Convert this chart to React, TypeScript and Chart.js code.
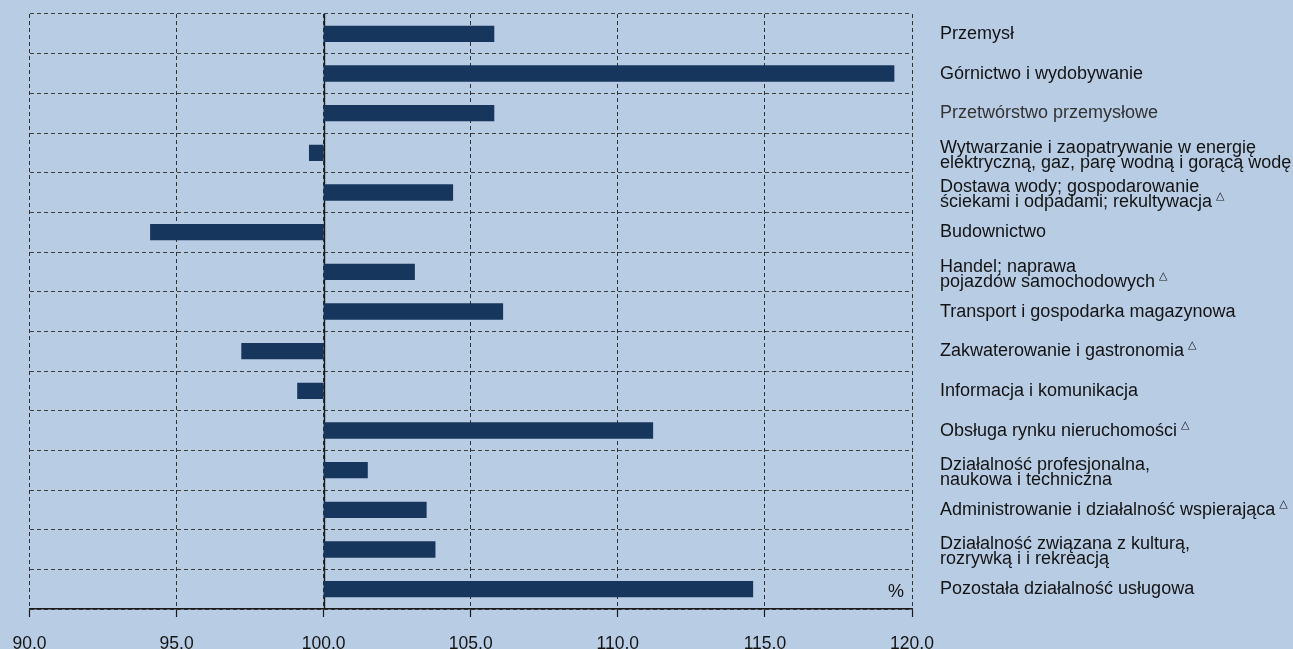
import React, { useEffect, useRef } from "react";
import { Chart, registerables } from "chart.js";

Chart.register(...registerables);

const categories: string[][] = [
  ["Przemysł"],
  ["Górnictwo i wydobywanie"],
  ["Przetwórstwo przemysłowe"],
  ["Wytwarzanie i zaopatrywanie w energię", "elektryczną, gaz, parę wodną i gorącą wodę"],
  ["Dostawa wody; gospodarowanie", "ściekami i odpadami; rekultywacja"],
  ["Budownictwo"],
  ["Handel; naprawa", "pojazdów samochodowych"],
  ["Transport i gospodarka magazynowa"],
  ["Zakwaterowanie i gastronomia"],
  ["Informacja i komunikacja"],
  ["Obsługa rynku nieruchomości"],
  ["Działalność profesjonalna,", "naukowa i techniczna"],
  ["Administrowanie i działalność wspierająca"],
  ["Działalność związana z kulturą,", "rozrywką i i rekreacją"],
  ["Pozostała działalność usługowa"],
];

const values: number[] = [
  105.8, 119.4, 105.8, 99.5, 104.4, 94.1, 103.1, 106.1, 97.2, 99.1, 111.2, 101.5, 103.5, 103.8, 114.6,
];

const triangleMarked: boolean[] = [
  false, false, false, false, true, false, true, false, true, false, true, false, true, false, false,
];

const baseValue = 100;
const axisMin = 90;
const axisMax = 120;
const axisStep = 5;
const unitLabel = "%";

const BG = "#b8cce4";
const BAR = "#17365d";
const FONT = "'Liberation Sans', Arial, sans-serif";

export default function App() {
  const ref = useRef<HTMLCanvasElement | null>(null);

  useEffect(() => {
    if (!ref.current) return;

    const overlay = {
      id: "overlay",
      beforeDatasetsDraw(chart: any) {
        const { ctx, chartArea, scales } = chart;
        const x = Math.round(scales.x.getPixelForValue(baseValue)) + 0.5;
        ctx.save();
        ctx.strokeStyle = "#1a1a1a";
        ctx.lineWidth = 1.4;
        ctx.setLineDash([]);
        ctx.beginPath();
        ctx.moveTo(x, chartArea.top);
        ctx.lineTo(x, chartArea.bottom);
        ctx.stroke();
        ctx.restore();
      },
      afterDraw(chart: any) {
        const { ctx, chartArea, scales } = chart;
        const yS = scales.y;
        ctx.save();
        ctx.textAlign = "left";
        ctx.textBaseline = "alphabetic";
        const lx = chartArea.right + 28;
        const lh = 15;
        categories.forEach((lines, i) => {
          const cy = yS.getPixelForValue(i);
          const n = lines.length;
          let lastW = 0;
          let lastY = 0;
          lines.forEach((t, j) => {
            const by = cy + 5 - (n - 1) * 5.2 + j * lh;
            ctx.font = `18px ${FONT}`;
            ctx.fillStyle = i === 2 ? "#333" : "#141414";
            ctx.fillText(t, lx, by);
            lastW = ctx.measureText(t).width;
            lastY = by;
          });
          if (triangleMarked[i]) {
            ctx.font = `11px 'DejaVu Sans', ${FONT}`;
            ctx.fillStyle = "#141414";
            ctx.fillText("\u25B3", lx + lastW + 4, lastY - 8);
          }
        });
        ctx.font = `18px ${FONT}`;
        ctx.textAlign = "right";
        ctx.fillStyle = "#141414";
        ctx.fillText(unitLabel, chartArea.right - 8, chartArea.bottom - 12);
        ctx.restore();
      },
    };

    const chart = new Chart(ref.current, {
      type: "bar",
      data: {
        labels: categories.map((c) => c.join(" ")),
        datasets: [
          {
            data: values.map((v) => [baseValue, v]) as any,
            backgroundColor: BAR,
            borderWidth: 0,
            barPercentage: 0.41,
            categoryPercentage: 1,
          },
        ],
      },
      options: {
        indexAxis: "y",
        responsive: false,
        animation: false,
        events: [],
        layout: { padding: { left: 29.5, right: 381, top: 14, bottom: 0 } },
        plugins: { legend: { display: false }, tooltip: { enabled: false } },
        scales: {
          x: {
            type: "linear",
            min: axisMin,
            max: axisMax,
            afterFit: (s: any) => {
              s.height = 40;
              s.paddingLeft = 0;
              s.paddingRight = 0;
            },
            ticks: {
              stepSize: axisStep,
              color: "#141414",
              font: { family: FONT, size: 17.5 },
              padding: 17,
              callback: (v: any) => Number(v).toFixed(1).replace(".", ","),
            },
            grid: {
              color: "#333",
              lineWidth: 1,
              drawTicks: true,
              tickLength: 8,
              tickColor: "#1a1a1a",
              tickWidth: 1.2,
            },
            border: { display: true, color: "#1a1a1a", width: 1.4, dash: [4, 3] },
          },
          y: {
            type: "category",
            afterFit: (s: any) => {
              s.width = 0;
            },
            ticks: { display: false },
            grid: { color: "#404040", lineWidth: 1, drawTicks: false, offset: true },
            border: { display: false, dash: [4, 3] },
          },
        },
      },
      plugins: [overlay],
    });

    return () => chart.destroy();
  }, []);

  return (
    <div
      style={{
        position: "absolute",
        left: 0,
        top: 0,
        width: 1293,
        height: 649,
        background: BG,
        overflow: "hidden",
      }}
    >
      <canvas ref={ref} width={1293} height={649} style={{ width: 1293, height: 649, display: "block" }} />
    </div>
  );
}
